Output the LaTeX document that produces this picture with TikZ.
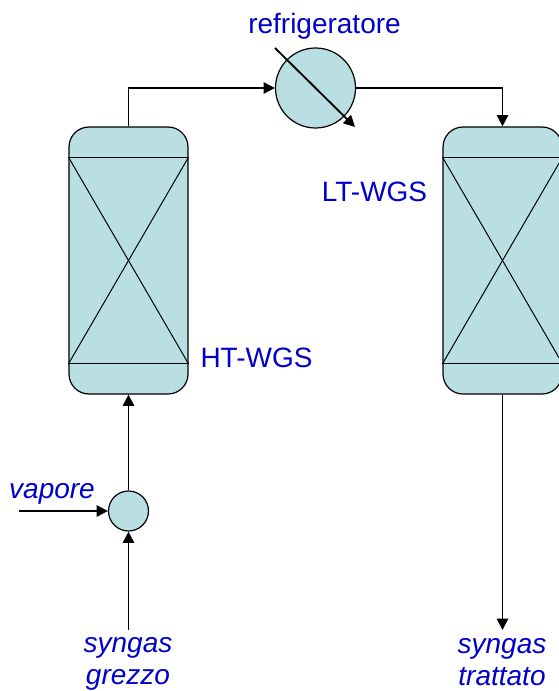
\documentclass[tikz,border=0pt]{standalone}
\usepackage{fontspec}
\setmainfont{Liberation Sans}
\usetikzlibrary{arrows.meta}
\definecolor{unitfill}{HTML}{B9DFE3}
\definecolor{labelblue}{HTML}{0000CC}
\tikzset{
    flow/.style={-{Triangle[length=8.5pt,width=8.5pt]},line width=1.4pt},
    reactorbody/.style={draw=black,fill=unitfill,line width=0.9pt,rounded corners=15pt,minimum width=89.25pt,minimum height=200.25pt,inner sep=0pt},
    unit/.style={circle,draw=black,fill=unitfill,line width=0.9pt,inner sep=0pt},
    packing/.style={line width=0.75pt},
    tag/.style={text=labelblue,font=\fontsize{21}{24.3}\selectfont,inner sep=0pt,align=center},
    slanted/.style={font=\fontsize{21}{24.3}\selectfont\itshape},
}
\begin{document}
\begin{tikzpicture}[x=0.75pt,y=-0.75pt]
    \useasboundingbox (0,0) rectangle (559,691);
    \clip (0,0) rectangle (559,691);
    % reactors
    \node[reactorbody] (ht) at (128.5,260.5) {};
    \node[reactorbody] (lt) at (502.5,260.5) {};
    \foreach \r in {ht,lt} {
        \coordinate (\r tl) at ([yshift=-77.6pt]\r.west);
        \coordinate (\r tr) at ([yshift=-77.6pt]\r.east);
        \coordinate (\r bl) at ([yshift=77.6pt]\r.west);
        \coordinate (\r br) at ([yshift=77.6pt]\r.east);
        \draw[packing] (\r tl) -- (\r tr);
        \draw[packing] (\r bl) -- (\r br);
        \draw[packing] (\r tl) -- (\r br);
        \draw[packing] (\r tr) -- (\r bl);
    }
    % cooler and mixer
    \node[unit,minimum size=60pt] (cooler) at (315.5,88) {};
    \node[unit,minimum size=30pt] (mixer) at (128.5,511) {};
    \coordinate (coolin) at (275,48);
    \coordinate (coolout) at (355,127);
    \draw[flow] (coolin) -- (coolout);
    % free ends
    \coordinate (steam) at (19,511);
    \coordinate (feed) at (128.5,630);
    \coordinate (product) at (502.5,630);
    % streams
    \draw[flow] (steam) -- (mixer);
    \draw[flow] (feed) -- (mixer);
    \draw[flow] (mixer) -- (ht);
    \draw[flow] (ht.north) |- (cooler);
    \draw[flow] (cooler) -| (lt.north);
    \draw[flow] (lt) -- (product);
    % labels
    \node[tag] (lcooler) at (324.5,26) {refrigeratore};
    \node[tag] (llt) at (374.5,192) {LT-WGS};
    \node[tag] (lht) at (256.5,358) {HT-WGS};
    \node[tag,slanted] (lsteam) at (52,494) {vapore};
    \node[tag,slanted] (lfeed) at (128,664) {syngas\\grezzo};
    \node[tag,slanted] (lproduct) at (502,662) {syngas\\trattato};
\end{tikzpicture}
\end{document}
